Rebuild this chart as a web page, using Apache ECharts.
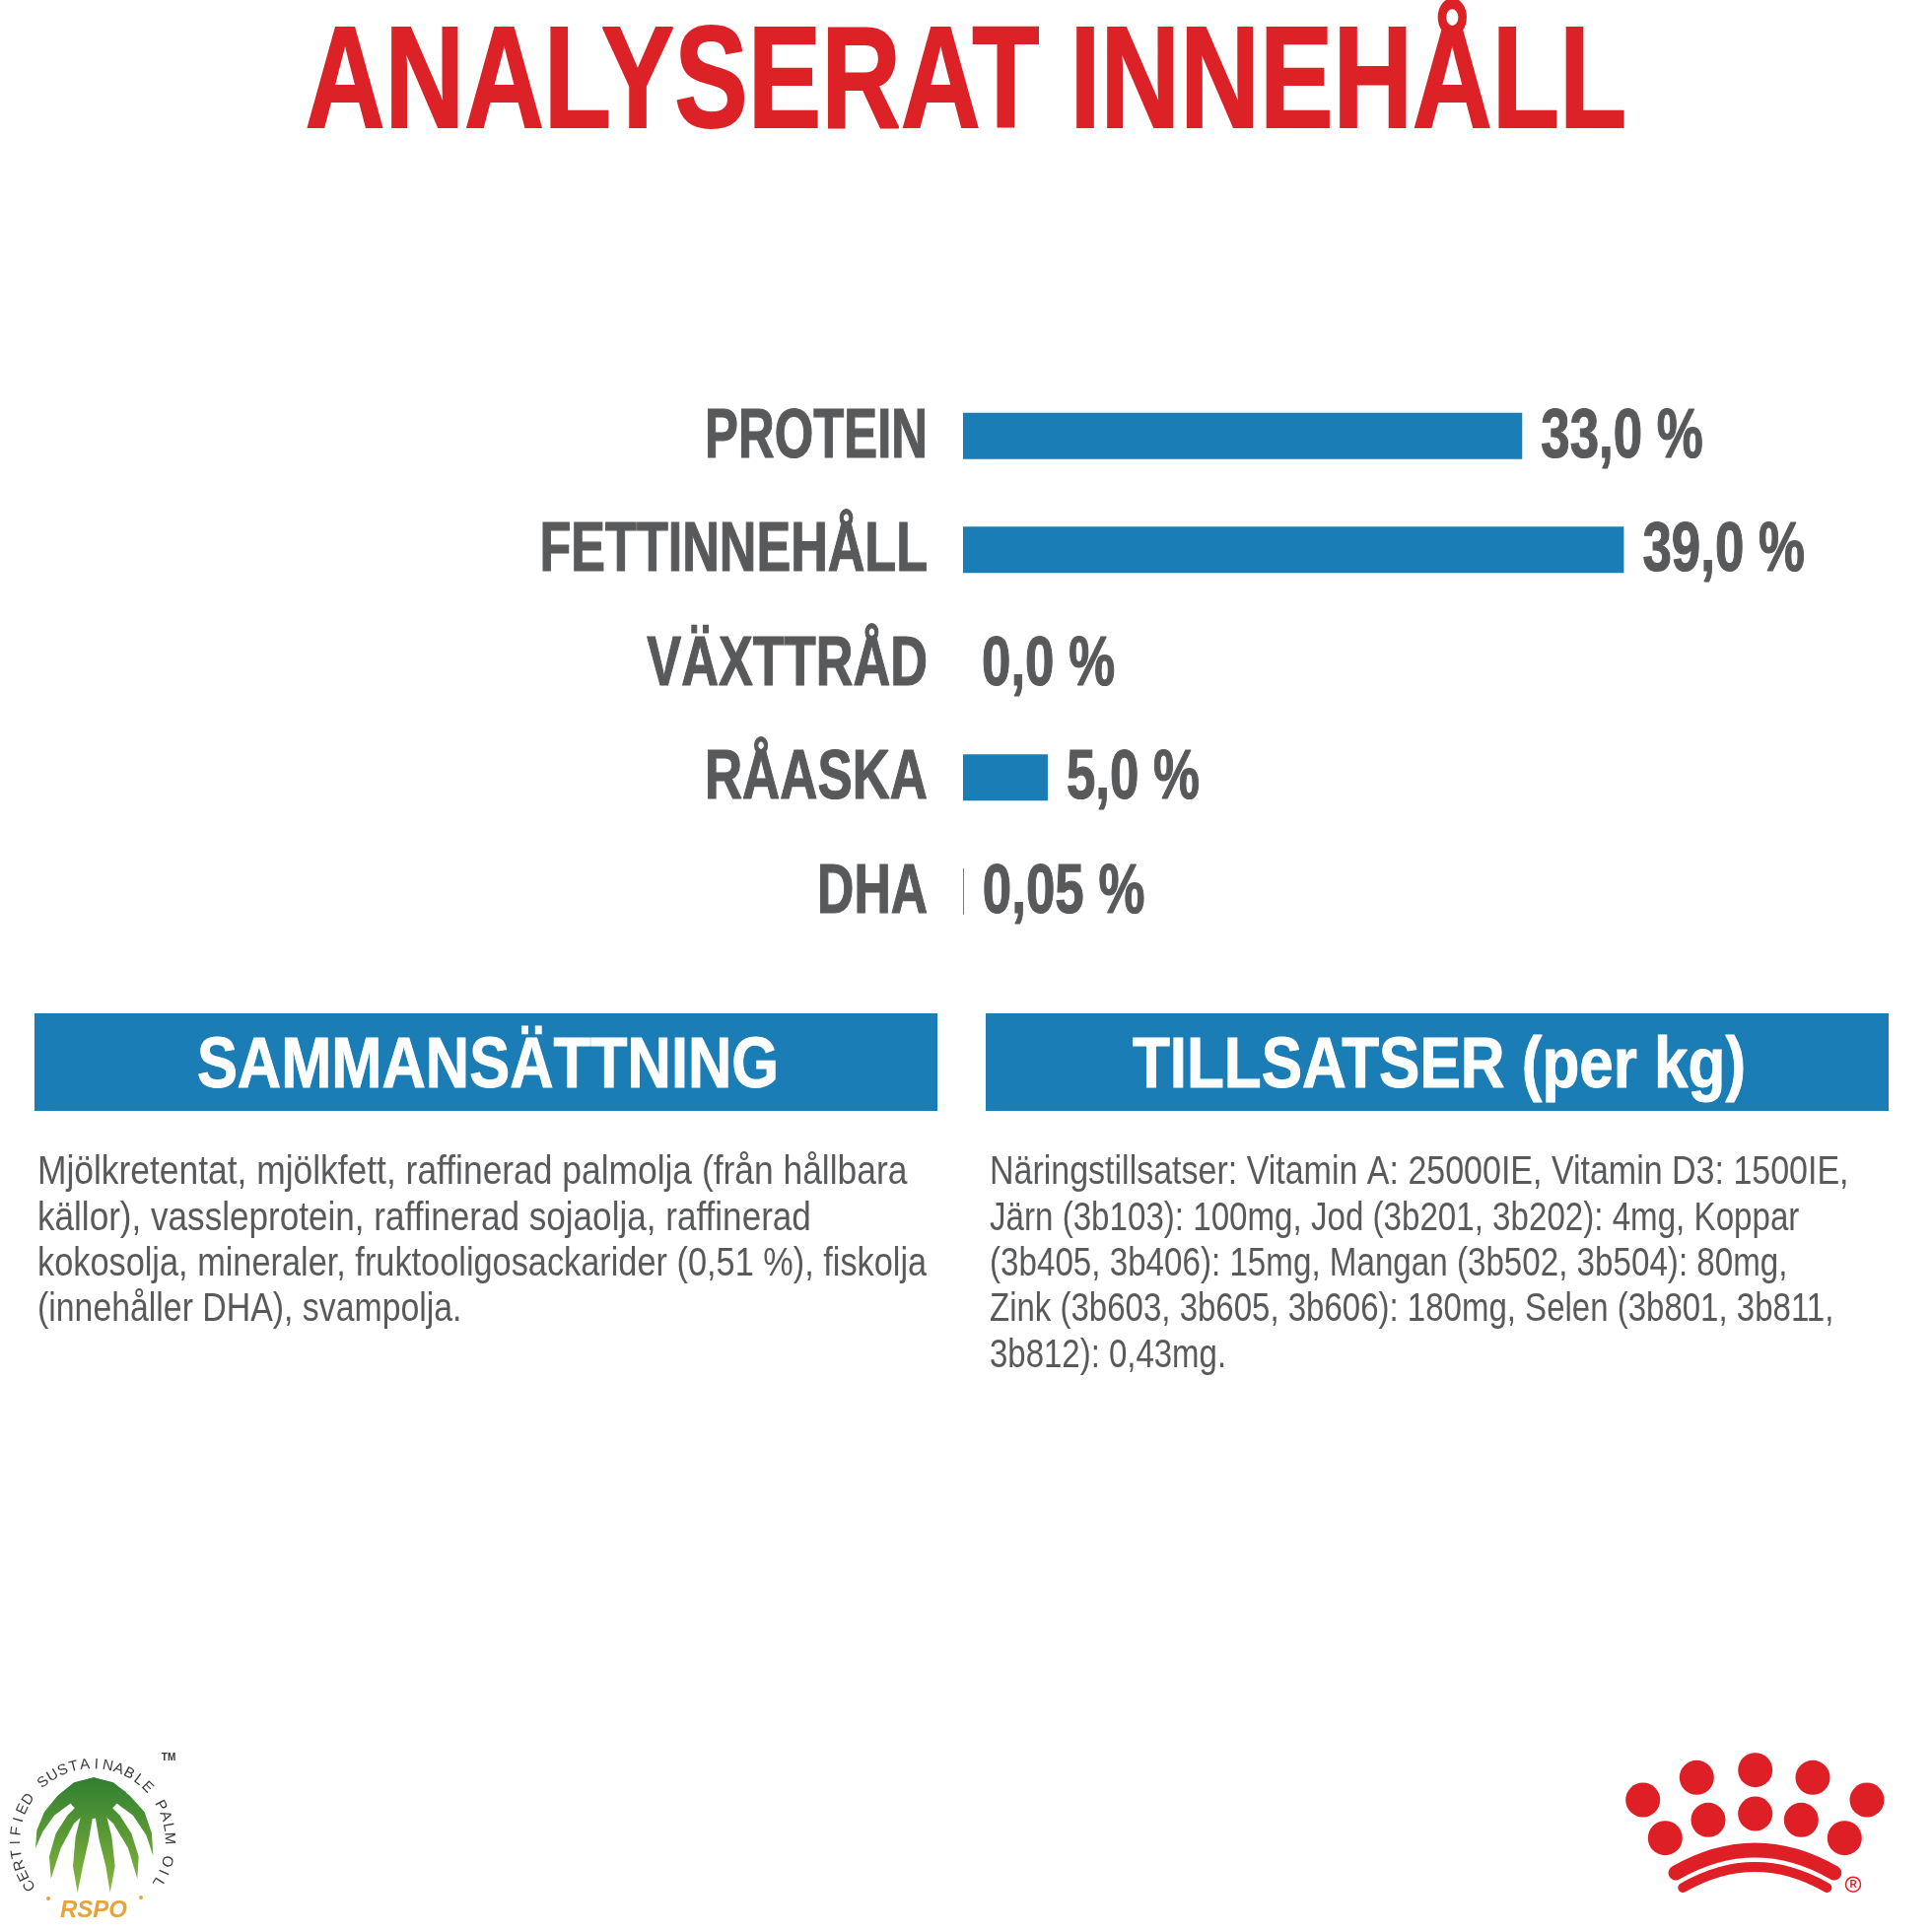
<!DOCTYPE html>
<html>
<head>
<meta charset="utf-8">
<style>html,body{margin:0;padding:0;background:#fff}#main{width:1960px;height:1960px}</style>
<script src="https://cdn.jsdelivr.net/npm/echarts@6/dist/echarts.min.js"></script>
</head>
<body>
<div id="main"></div>
<script>
var titleText = 'ANALYSERAT INNEHÅLL';
var categories = ['PROTEIN', 'FETTINNEHÅLL', 'VÄXTTRÅD', 'RÅASKA', 'DHA'];
var values = [33.0, 39.0, 0.0, 5.0, 0.05];
var valueLabels = ['33,0 %', '39,0 %', '0,0 %', '5,0 %', '0,05 %'];
var leftHeader = 'SAMMANSÄTTNING';
var rightHeader = 'TILLSATSER (per kg)';
var leftLines = [
    'Mjölkretentat, mjölkfett, raffinerad palmolja (från hållbara',
    'källor), vassleprotein, raffinerad sojaolja, raffinerad',
    'kokosolja, mineraler, fruktooligosackarider (0,51 %), fiskolja',
    '(innehåller DHA), svampolja.'
];
var rightLines = [
    'Näringstillsatser: Vitamin A: 25000IE, Vitamin D3: 1500IE,',
    'Järn (3b103): 100mg, Jod (3b201, 3b202): 4mg, Koppar',
    '(3b405, 3b406): 15mg, Mangan (3b502, 3b504): 80mg,',
    'Zink (3b603, 3b605, 3b606): 180mg, Selen (3b801, 3b811,',
    '3b812): 0,43mg.'
];
var ringText = 'CERTIFIED SUSTAINABLE PALM OIL';

// horizontal squeeze per text, no condensed font is installed
var categoryScale = [0.726, 0.744, 0.747, 0.755, 0.738];
var leftScale = [0.863, 0.856, 0.837, 0.825];
var rightScale = [0.829, 0.808, 0.809, 0.805, 0.804];

var sans = '"Liberation Sans", sans-serif';
var blue = '#1a7db6';
var grey = '#58595b';
var red = '#dc2127';

var myChart = echarts.init(document.getElementById('main'), null, {renderer: 'canvas'});
var g = [];

function addText(text, x, y, size, weight, fill, align, sx, bold) {
    g.push({
        type: 'text', x: x, y: y, scaleX: sx || 1,
        style: {text: text, x: 0, y: 0, fontFamily: sans, fontSize: size, fontWeight: weight,
            fill: fill, stroke: bold ? fill : null, lineWidth: bold || 0,
            textAlign: align, textVerticalAlign: 'middle'}
    });
}

// title
addText(titleText, 980, 89, 146, 'bold', red, 'center', 0.765, 2);

// header boxes
g.push({type: 'rect', shape: {x: 35, y: 1028, width: 916, height: 99}, style: {fill: blue}});
g.push({type: 'rect', shape: {x: 1000, y: 1028, width: 916, height: 99}, style: {fill: blue}});
addText(leftHeader, 495, 1083, 72, 'bold', '#fff', 'center', 0.853, 1);
addText(rightHeader, 1460, 1083, 72, 'bold', '#fff', 'center', 0.861, 1);

// body text
leftLines.forEach(function (line, i) {
    addText(line, 38, 1190 + i * 46.3, 41, 'normal', grey, 'left', leftScale[i]);
});
rightLines.forEach(function (line, i) {
    addText(line, 1004, 1190 + i * 46.3, 41, 'normal', grey, 'left', rightScale[i]);
});

// royal canin crown
var dots = [[1780.7, 1795.7], [1721.3, 1803.3], [1839, 1803.3], [1666.7, 1826], [1894, 1826],
    [1689.3, 1864.7], [1871.3, 1864.7], [1733, 1846.3], [1827.3, 1846.3], [1780.7, 1840]];
dots.forEach(function (d) {
    g.push({type: 'circle', shape: {cx: d[0], cy: d[1], r: 17.5}, style: {fill: '#de1f26'}});
});
g.push({type: 'bezierCurve', shape: {x1: 1700, y1: 1900, x2: 1860.7, y2: 1900, cpx1: 1780.5, cpy1: 1854},
    style: {stroke: '#de1f26', lineWidth: 15, lineCap: 'round', fill: null}});
g.push({type: 'bezierCurve', shape: {x1: 1707.3, y1: 1915, x2: 1853.3, y2: 1915, cpx1: 1780.5, cpy1: 1873},
    style: {stroke: '#de1f26', lineWidth: 10, lineCap: 'round', fill: null}});
g.push({type: 'circle', shape: {cx: 1880, cy: 1911.7, r: 7.5}, style: {stroke: '#de1f26', lineWidth: 1.5, fill: null}});
g.push({type: 'text', x: 1880, y: 1912, style: {text: 'R', fontFamily: sans, fontWeight: 'bold', fontSize: 10,
    fill: '#de1f26', textAlign: 'center', textVerticalAlign: 'middle'}});

// rspo palm, points are in the 3x space of the logo crop
var fronds = [
    [[108, 345], [112, 290], [135, 235], [175, 185], [225, 145], [285, 130], [285, 200], [220, 205], [165, 245], [130, 295]],
    [[466, 368], [462, 300], [440, 235], [395, 185], [345, 145], [285, 130], [285, 200], [350, 205], [405, 245], [445, 305]],
    [[155, 438], [150, 370], [170, 300], [205, 245], [255, 195], [300, 190], [285, 215], [225, 270], [185, 345]],
    [[418, 438], [422, 370], [400, 300], [365, 245], [315, 195], [270, 190], [285, 215], [345, 270], [390, 345]],
    [[236, 480], [222, 400], [230, 310], [250, 230], [275, 190], [285, 200], [282, 250], [270, 320], [252, 400]],
    [[335, 480], [350, 400], [340, 310], [320, 230], [295, 190], [285, 200], [290, 250], [302, 320], [322, 400]],
    [[190, 175], [230, 145], [285, 130], [340, 145], [385, 175], [350, 215], [320, 245], [285, 255], [250, 245], [220, 215]]
];
var palmFill = new echarts.graphic.LinearGradient(0, 1803, 0, 1920, [
    {offset: 0, color: '#2f7f31'}, {offset: 0.5, color: '#5a9a35'}, {offset: 1, color: '#8ab83f'}
], true);
fronds.forEach(function (pts) {
    g.push({
        type: 'polygon',
        shape: {points: pts.map(function (p) { return [p[0] / 3, 1760 + p[1] / 3]; })},
        style: {fill: palmFill}
    });
});
// ring of letters around the palm
var ringStart = -125, ringStep = 247 / (ringText.length - 1);
ringText.split('').forEach(function (ch, i) {
    var a = (ringStart + i * ringStep) * Math.PI / 180;
    g.push({
        type: 'text',
        x: 94 + 78 * Math.sin(a), y: 1868 - 78 * Math.cos(a), rotation: -a,
        style: {text: ch, fontFamily: sans, fontSize: 15, fill: '#3a3a3a',
            textAlign: 'center', textVerticalAlign: 'middle'}
    });
});
g.push({type: 'text', x: 171, y: 1783, style: {text: 'TM', fontFamily: sans, fontWeight: 'bold', fontSize: 10, fill: '#333',
    textAlign: 'center', textVerticalAlign: 'middle'}});
g.push({type: 'text', x: 95, y: 1938, style: {text: 'RSPO', fontFamily: sans, fontStyle: 'italic', fontWeight: 'bold', fontSize: 24,
    fill: '#e8a33d', textAlign: 'center', textVerticalAlign: 'middle'}});
g.push({type: 'circle', shape: {cx: 49, cy: 1926, r: 2}, style: {fill: '#e8a33d'}});
g.push({type: 'circle', shape: {cx: 143, cy: 1925, r: 2}, style: {fill: '#e8a33d'}});

// row labels placed from the axis scales, so they can be squeezed too
function renderLabels(params, api) {
    var i = params.dataIndex;
    var zero = api.coord([0, i]);
    var end = api.coord([api.value(0), i]);
    var base = {fontFamily: sans, fontWeight: 'bold', fontSize: 70, fill: grey, stroke: grey, lineWidth: 1.2,
        textVerticalAlign: 'middle', x: 0, y: 0};
    return {
        type: 'group',
        children: [
            {type: 'text', x: zero[0] - 36, y: zero[1] + 2, scaleX: categoryScale[i],
                style: Object.assign({text: categories[i], textAlign: 'right'}, base)},
            {type: 'text', x: end[0] + 19, y: end[1] + 2, scaleX: 0.755,
                style: Object.assign({text: valueLabels[i], textAlign: 'left'}, base)}
        ]
    };
}

var option = {
    animation: false,
    backgroundColor: '#fff',
    grid: {left: 977, top: 384.5, width: 859.5, height: 577.5},
    xAxis: {type: 'value', min: 0, max: 50, show: false},
    yAxis: {
        type: 'category', inverse: true, data: categories,
        axisLine: {show: false}, axisTick: {show: false}, axisLabel: {show: false}
    },
    series: [{
        type: 'bar', data: values, barWidth: 47, silent: true,
        itemStyle: {color: blue}
    }, {
        type: 'custom', silent: true, renderItem: renderLabels,
        data: values.map(function (v, i) { return [v, i]; }),
        encode: {x: 0, y: 1}
    }],
    graphic: {elements: g}
};
myChart.setOption(option);
</script>
</body>
</html>
